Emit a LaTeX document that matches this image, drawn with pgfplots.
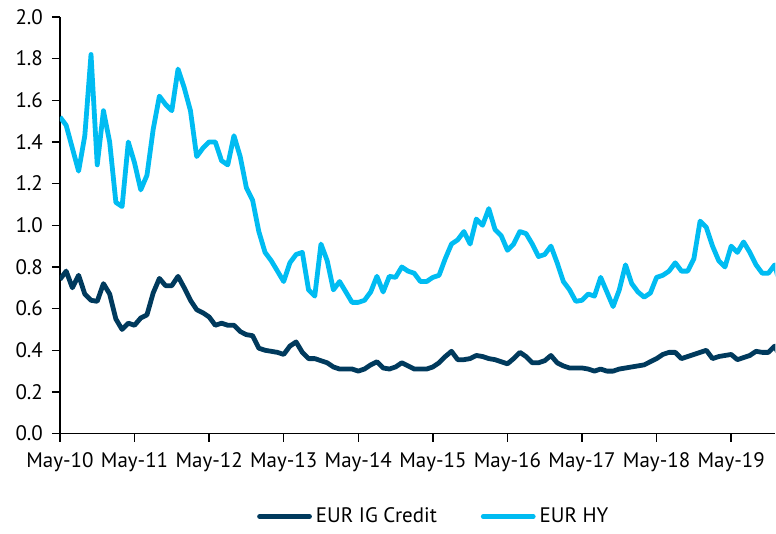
\documentclass[border=0pt]{standalone}
\usepackage{fontspec}
\setmainfont{PT Sans}
\usepackage{pgfplots}
\usepackage{pgfplotstable}
\pgfplotsset{compat=1.18}

\definecolor{igblue}{RGB}{0,58,93}
\definecolor{hyblue}{RGB}{0,188,242}

% month index 0 = May-10
\pgfplotstableread{
m hy ig
0 1.52 0.74
1 1.48 0.78
2 1.37 0.70
3 1.26 0.76
4 1.43 0.67
5 1.82 0.64
6 1.29 0.635
7 1.55 0.72
8 1.40 0.67
9 1.11 0.55
10 1.09 0.50
11 1.40 0.53
12 1.30 0.52
13 1.17 0.555
14 1.24 0.57
15 1.46 0.675
16 1.62 0.745
17 1.58 0.71
18 1.55 0.71
19 1.75 0.755
20 1.66 0.70
21 1.55 0.64
22 1.33 0.595
23 1.37 0.58
24 1.40 0.56
25 1.40 0.52
26 1.31 0.53
27 1.29 0.52
28 1.43 0.52
29 1.33 0.49
30 1.18 0.475
31 1.12 0.47
32 0.97 0.41
33 0.87 0.40
34 0.83 0.395
35 0.78 0.39
36 0.73 0.38
37 0.82 0.42
38 0.86 0.44
39 0.87 0.39
40 0.69 0.36
41 0.66 0.36
42 0.91 0.35
43 0.83 0.34
44 0.69 0.32
45 0.73 0.31
46 0.68 0.31
47 0.63 0.31
48 0.63 0.30
49 0.64 0.31
50 0.68 0.33
51 0.755 0.345
52 0.68 0.315
53 0.755 0.31
54 0.75 0.32
55 0.80 0.34
56 0.78 0.325
57 0.77 0.31
58 0.73 0.31
59 0.73 0.31
60 0.75 0.32
61 0.76 0.34
62 0.84 0.37
63 0.91 0.395
64 0.93 0.355
65 0.97 0.355
66 0.91 0.36
67 1.03 0.375
68 1.00 0.37
69 1.08 0.36
70 0.98 0.355
71 0.95 0.345
72 0.88 0.335
73 0.91 0.36
74 0.97 0.39
75 0.96 0.37
76 0.91 0.34
77 0.85 0.34
78 0.86 0.35
79 0.90 0.375
80 0.82 0.34
81 0.73 0.325
82 0.69 0.315
83 0.635 0.315
84 0.64 0.315
85 0.67 0.31
86 0.66 0.30
87 0.75 0.31
88 0.68 0.30
89 0.61 0.30
90 0.69 0.31
91 0.81 0.315
92 0.72 0.32
93 0.68 0.325
94 0.655 0.33
95 0.675 0.345
96 0.75 0.36
97 0.76 0.38
98 0.78 0.39
99 0.82 0.39
100 0.78 0.36
101 0.78 0.37
102 0.84 0.38
103 1.02 0.39
104 0.99 0.40
105 0.90 0.36
106 0.83 0.37
107 0.80 0.375
108 0.90 0.38
109 0.87 0.355
110 0.92 0.365
111 0.87 0.375
112 0.81 0.395
113 0.77 0.39
114 0.77 0.39
115 0.81 0.42
116 0.70 0.36
}\spreads

\begin{document}
\begin{tikzpicture}
\begin{axis}[
  scale only axis,
  width=358pt, height=208.5pt,
  xmin=0, xmax=115.1,
  ymin=0, ymax=2,
  axis x line=bottom, axis y line=left,
  axis line style={-, black, line width=0.7pt},
  xtick={0,12,...,108},
  xticklabels={May-10,May-11,May-12,May-13,May-14,May-15,May-16,May-17,May-18,May-19},
  ytick={0,0.2,...,2.0},
  yticklabel style={/pgf/number format/fixed, /pgf/number format/fixed zerofill, /pgf/number format/precision=1, xshift=-1pt},
  /pgf/number format/assume math mode=true,
  tick align=outside,
  major tick length=4pt,
  tick style={black, line width=0.7pt},
  ticklabel style={font=\fontsize{10.5}{12}\selectfont},
  xticklabel style={yshift=-2pt},
  legend style={
    at={(0.524,-0.199)}, anchor=center, draw=none,
    font=\fontsize{10.5}{12}\selectfont,
    /tikz/every even column/.append style={column sep=20pt},
  },
  legend columns=2,
  legend cell align=left,
  legend image code/.code={\draw[#1, line cap=round] (0pt,0pt) -- (25pt,0pt);},
]
\addplot[igblue, line width=2.4pt, line join=round] table[x=m, y=ig] {\spreads};
\addlegendentry{EUR IG Credit}
\addplot[hyblue, line width=2.4pt, line join=round] table[x=m, y=hy] {\spreads};
\addlegendentry{EUR HY}
\end{axis}
\path[use as bounding box] (-30pt,-48pt) rectangle (358pt,217pt);
\end{tikzpicture}
\end{document}
